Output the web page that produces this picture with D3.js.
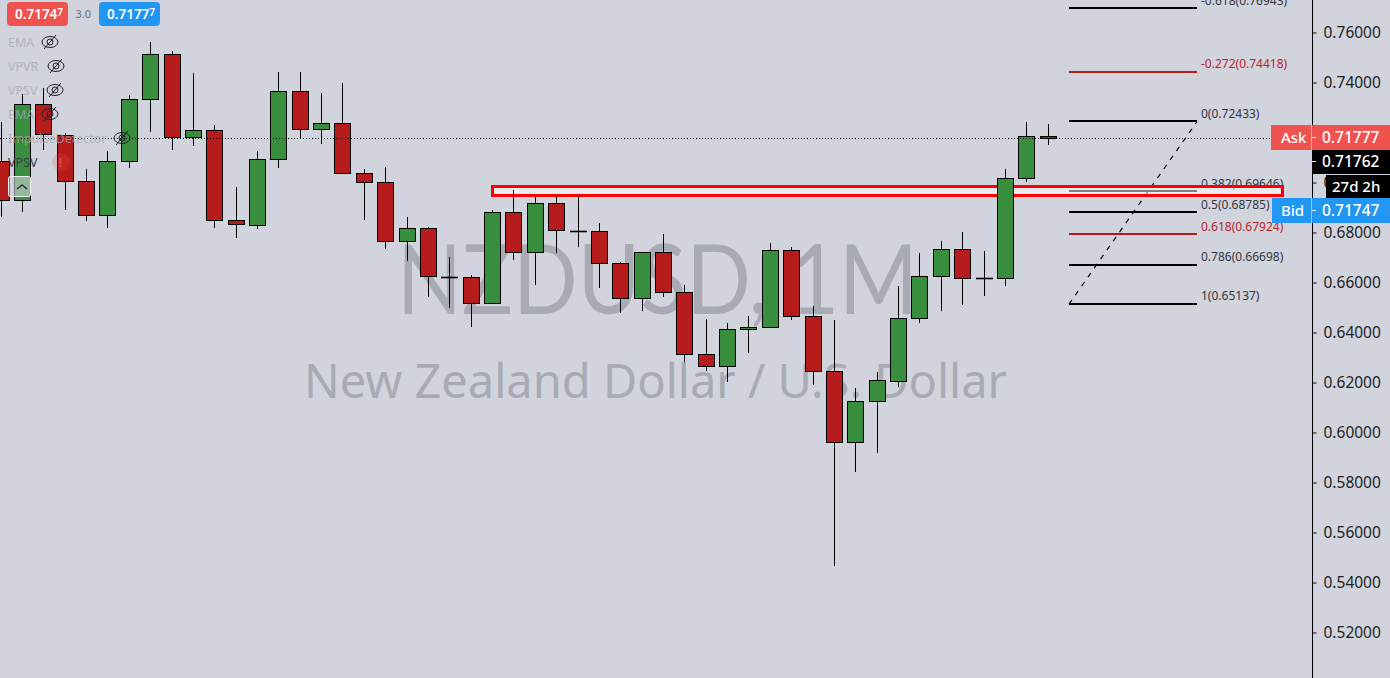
<!DOCTYPE html>
<html><head><meta charset="utf-8">
<script src="https://cdnjs.cloudflare.com/ajax/libs/d3/7.8.5/d3.min.js"></script>
<style>html,body{margin:0;padding:0;background:#d1d4dc;overflow:hidden}svg{display:block}text{font-family:"Noto Sans",sans-serif}</style>
</head><body><svg id="c" width="1390" height="678"></svg>
<script>
const opens =[.7086,.6930,.7314,.7192,.7006,.6870,.7086,.7334,.7514,.7182,.7210,.6850,.6832,.7094,.7366,.7214,.7238,.7038,.7002,.6766,.6818,.6623,.6622,.6518,.6882,.6722,.6918,.6806,.6806,.6678,.6538,.6722,.6562,.6314,.6266,.6412,.6422,.6730,.6466,.6246,.5964,.6126,.6208,.6458,.6626,.6734,.6618,.6618,.7018,.7185];
const highs =[.7242,.7354,.7378,.7198,.7054,.7126,.7350,.7562,.7526,.7438,.7230,.6982,.7126,.7442,.7442,.7358,.7398,.7054,.7062,.6862,.6822,.6702,.6630,.6890,.6970,.6942,.6946,.6946,.6838,.6682,.6722,.6794,.6590,.6454,.6438,.6466,.6758,.6742,.6506,.6450,.6178,.6242,.6586,.6718,.6766,.6802,.6726,.7054,.7242,.7234];
const lows  =[.6862,.6882,.7130,.6890,.6846,.6818,.7058,.7202,.7130,.7146,.6818,.6778,.6814,.7058,.7174,.7154,.7038,.6850,.6734,.6686,.6542,.6498,.6422,.6518,.6690,.6590,.6718,.6742,.6578,.6478,.6486,.6542,.6282,.6246,.6202,.6318,.6422,.6450,.6190,.5466,.5842,.5918,.6182,.6438,.6486,.6510,.6546,.6586,.7002,.7150];
const closes=[.6930,.7314,.7194,.7006,.6870,.7086,.7334,.7514,.7182,.7210,.6850,.6834,.7094,.7366,.7214,.7238,.7038,.7002,.6766,.6818,.6626,.6623,.6518,.6882,.6722,.6918,.6810,.6806,.6678,.6538,.6722,.6562,.6314,.6266,.6414,.6421,.6730,.6466,.6246,.5964,.6126,.6210,.6458,.6626,.6734,.6618,.6618,.7018,.7186,.7176];
const fibRatios=["-0.618","-0.272","0","0.382","0.5","0.618","0.786","1"];
const fibValues=[.76943,.74418,.72433,.69646,.68785,.67924,.66698,.65137];
const fibRed=[false,true,false,false,false,true,false,false];
const priceTicks=[.52,.54,.56,.58,.60,.62,.64,.66,.68,.70,.72,.74,.76];
const legendNames=["EMA","VPVR","VPSV","EMA","ImpulseDetector"];
const lastPrice=.71762, askPrice=.71777, bidPrice=.71747, zoneTop=.6984, zoneBottom=.6948;
const bg="#d1d4dc",up="#388e3c",down="#b71c1c";

const svg=d3.select("#c");
const x=d3.scaleLinear().domain([0,49]).range([.54,1047.67]);
const y=d3.scaleLinear().domain([.52,.76]).range([632.5,32.5]);
const fx=d3.scaleLinear().domain([0,1]).range([1069,1197]);

// watermark
svg.append("text").attr("x",397).attr("y",314).attr("font-size",96).attr("fill","#a8abb4").attr("textLength",521).attr("lengthAdjust","spacingAndGlyphs").style("font-family","Lato").text("NZDUSD, 1M");
svg.append("text").attr("x",304).attr("y",398).attr("font-size",48).attr("fill","#a8abb4").attr("textLength",703).attr("lengthAdjust","spacingAndGlyphs").text("New Zealand Dollar / U.S. Dollar");

// fib
const fg=svg.append("g");
fg.selectAll("line").data(fibValues).join("line")
 .attr("x1",fx(0)).attr("x2",fx(1)).attr("y1",d=>Math.floor(y(d))).attr("y2",d=>Math.floor(y(d)))
 .attr("stroke-width",2).attr("stroke",(d,i)=>fibRed[i]?down:"#000");
fg.selectAll("text").data(fibValues).join("text")
 .attr("x",1201).attr("y",d=>y(d)-3.6).attr("font-size",12)
 .attr("fill",(d,i)=>fibRed[i]?"#b8262a":"#33363f")
 .text((d,i)=>`${fibRatios[i]}(${d.toFixed(5)})`);
svg.append("line").attr("x1",fx(0)).attr("y1",y(fibValues[7])).attr("x2",fx(1)).attr("y2",y(fibValues[2]))
 .attr("stroke","#000").attr("stroke-width",1.2).attr("stroke-dasharray","5 6");

// zone
svg.append("rect").attr("x",492.5).attr("width",790).attr("y",y(zoneTop)).attr("height",y(zoneBottom)-y(zoneTop))
 .attr("fill","rgba(255,255,255,.5)").attr("stroke","#ff0000").attr("stroke-width",3);

// candles
const cg=svg.append("g");
const idx=d3.range(opens.length);
cg.selectAll("line").data(idx).join("line")
 .attr("x1",i=>Math.round(x(i))+.5).attr("x2",i=>Math.round(x(i))+.5)
 .attr("y1",i=>y(highs[i])).attr("y2",i=>y(lows[i])).attr("stroke","#000").attr("stroke-width",1);
cg.selectAll("rect").data(idx.filter(i=>opens[i]!==closes[i])).join("rect")
 .attr("x",i=>Math.round(x(i))-7.5).attr("width",16)
 .attr("y",i=>Math.round(y(Math.max(opens[i],closes[i])))+.5)
 .attr("height",i=>Math.max(1,Math.round(y(Math.min(opens[i],closes[i]))-y(Math.max(opens[i],closes[i])))))
 .attr("fill",i=>closes[i]>opens[i]?up:down).attr("stroke","#000");
cg.selectAll("line.d").data(idx.filter(i=>opens[i]===closes[i])).join("line").attr("class","d")
 .attr("x1",i=>Math.round(x(i))-8).attr("x2",i=>Math.round(x(i))+9)
 .attr("y1",i=>Math.round(y(opens[i]))+.5).attr("y2",i=>Math.round(y(opens[i]))+.5)
 .attr("stroke","#000").attr("stroke-width",1.6);

// price line
svg.append("line").attr("x1",0).attr("x2",1272).attr("y1",138.5).attr("y2",138.5).attr("stroke","#000").attr("stroke-dasharray","1 2");

// axis
const ax=svg.append("g").attr("transform","translate(1312.5,0)")
 .call(d3.axisRight(y).tickValues(priceTicks).tickFormat(d3.format(".5f")).tickSize(4).tickPadding(7));
ax.selectAll("path").remove();
ax.append("line").attr("y1",0).attr("y2",678).attr("stroke","#000");
ax.selectAll(".tick line").attr("stroke","#000");
ax.selectAll("text").attr("font-size",15.5).attr("fill","#1c1e24").style("font-family",'"Noto Sans",sans-serif');

function box(x0,y0,w,h,fill,r){svg.append("rect").attr("x",x0).attr("y",y0).attr("width",w).attr("height",h).attr("fill",fill).attr("rx",r||0);}
function lab(x0,yy,t,size,fill,w){return svg.append("text").attr("x",x0).attr("y",yy).attr("font-size",size).attr("fill",fill).attr("font-weight",w||400).text(t);}
// right flags
box(1271,125,119,25,"#ef5350");
box(1312,150,78,24,"#000");
box(1326,175,64,23,"#000");
box(1272,198,118,25,"#2196f3");
svg.append("rect").attr("x",1311).attr("y",125).attr("width",1).attr("height",25).attr("fill","#f7a9a7");
svg.append("rect").attr("x",1311).attr("y",198).attr("width",1).attr("height",25).attr("fill","#90cbf9");
[[1312,137.5],[1312,161.5],[1312,210.5]].forEach(p=>svg.append("line").attr("x1",p[0]).attr("x2",p[0]+4).attr("y1",p[1]).attr("y2",p[1]).attr("stroke","#fff"));
lab(1281,143,"Ask",15,"#fff",500);
lab(1322,143,askPrice.toFixed(5),15.5,"#fff",500);
lab(1322,167,lastPrice.toFixed(5),15.5,"#fff",500);
lab(1332,192,"27d 2h",15,"#fff",500);
lab(1281,216,"Bid",15,"#fff",500);
lab(1322,216,bidPrice.toFixed(5),15.5,"#fff",500);

// legend top
function sup(x0,yy,v){const s=v.toFixed(5);const t=svg.append("text").attr("x",x0).attr("y",yy).attr("font-size",13.5).attr("font-weight",600).attr("fill","#fff");
 t.append("tspan").text(s.slice(0,6));t.append("tspan").attr("font-size",10).attr("dy",-3).text(s.slice(6));}
box(7,2,61,24,"#ef5350",4); sup(15,19,bidPrice);
lab(75.5,18,"3.0",11,"#6c6f78");
box(99,2,61,24,"#2196f3",4); sup(107,19,askPrice);

// study legend
const lx=[8,8,8,8,8], ly=[47,71,95,119,143], eyeX=[50,56,55,50,122];
legendNames.forEach((n,i)=>{
 lab(lx[i],ly[i],n,12.5,"#a6a9b2").attr("opacity",.75);
 const g=svg.append("g").attr("transform",`translate(${eyeX[i]},${ly[i]-5})`).attr("fill","none").attr("stroke","#1f222b").attr("stroke-width",1);
 g.append("ellipse").attr("rx",8).attr("ry",5.5);
 g.append("circle").attr("r",3);
 g.append("line").attr("x1",-6).attr("y1",7).attr("x2",6).attr("y2",-7);
});
lab(8,167,"VPSV",12.5,"#3a3d46");
svg.append("circle").attr("cx",61).attr("cy",162).attr("r",9).attr("fill","#ef5350").attr("opacity",.18);
lab(58.5,167,"!",13,"#ef5350",700).attr("opacity",.7);
svg.append("rect").attr("x",8.5).attr("y",176.5).attr("width",22).attr("height",20).attr("rx",2).attr("fill","rgba(209,212,220,.6)").attr("stroke","#eef0f3");
svg.append("path").attr("d",d3.line()([[17,189],[22,185],[27,189]])).attr("fill","none").attr("stroke","#2a2e39").attr("stroke-width",1.4);
</script></body></html>
